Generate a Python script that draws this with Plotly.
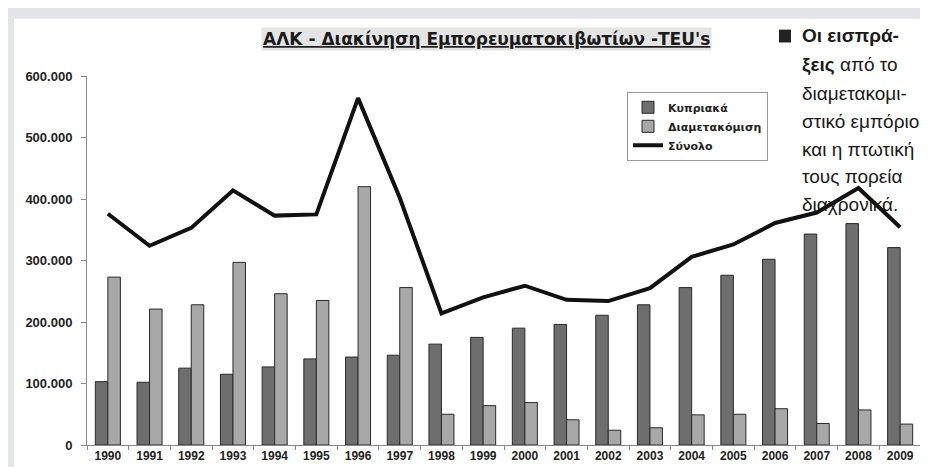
import plotly.graph_objects as go

years = [str(y) for y in range(1990, 2010)]
kypriaka = [103000, 102000, 125000, 115000, 127000, 140000, 143000, 146000, 164000, 175000,
            190000, 196000, 211000, 228000, 256000, 276000, 302000, 343000, 360000, 321000]
diametakomisi = [273000, 221000, 228000, 297000, 246000, 235000, 420000, 256000, 50000, 64000,
                 69000, 41000, 24000, 28000, 49000, 50000, 59000, 35000, 57000, 34000]
synolo = [376000, 324000, 353000, 414000, 373000, 375000, 564000, 402000, 214000, 240000,
          259000, 236000, 234000, 255000, 306000, 326000, 361000, 378000, 418000, 354000]

W, H = 928, 467
ML, MR, MT, MB = 79, 15, 68, 25
PW, PH = W - ML - MR, H - MT - MB


def px(x):
    return (x - ML) / PW


def py(y):
    return (H - MB - y) / PH


fig = go.Figure()
fig.add_trace(go.Bar(x=years, y=kypriaka, name="Κυπριακά",
                     marker=dict(color="#6e6e6e", line=dict(color="#2a2a2a", width=1))))
fig.add_trace(go.Bar(x=years, y=diametakomisi, name="Διαμετακόμιση",
                     marker=dict(color="#a8a8a8", line=dict(color="#2a2a2a", width=1))))
fig.add_trace(go.Scatter(x=years, y=synolo, name="Σύνολο", mode="lines",
                         line=dict(color="#111111", width=4)))

shapes = [
    dict(type="rect", xref="paper", yref="paper", x0=px(6), x1=px(940), y0=py(480), y1=py(10),
         fillcolor="white", line=dict(width=0), layer="below"),
    dict(type="rect", xref="paper", yref="paper", x0=px(771), x1=px(783), y0=py(34), y1=py(21),
         fillcolor="#222222", line=dict(width=0)),
]

side_font = "Liberation Sans, Arial, sans-serif"
side_lines = [
    ("<b>Οι εισπρά-</b>", 27),
    ("<b>ξεις</b> από το", 57),
    ("διαμετακομι-", 86),
    ("στικό εμπόριο", 114),
    ("και η πτωτική", 142),
    ("τους πορεία", 170),
    ("διαχρονικά.", 198),
]
annotations = [
    dict(text="<u>ΑΛΚ - Διακίνηση Εμπορευματοκιβωτίων -TEU's</u>", xref="paper", yref="paper",
         x=px(478), y=py(30), xanchor="center", yanchor="middle", showarrow=False,
         font=dict(family="DejaVu Sans", size=17, color="#1a1a1a", weight="bold"),
         bgcolor="#e4e4e4", borderpad=1),
]
for t, yy in side_lines:
    annotations.append(dict(text=t, xref="paper", yref="paper", x=px(792), y=py(yy),
                            xanchor="left", yanchor="middle", showarrow=False,
                            font=dict(family=side_font, size=19, color="#1a1a1a")))

fig.update_layout(
    width=W, height=H,
    margin=dict(l=ML, r=MR, t=MT, b=MB, pad=0),
    paper_bgcolor="#e4e5e8",
    plot_bgcolor="white",
    separators=",.",
    barmode="group", bargap=0.4, bargroupgap=0,
    showlegend=True,
    legend=dict(x=px(619), y=py(84), xanchor="left", yanchor="top",
                bordercolor="#999999", borderwidth=1, bgcolor="white",
                font=dict(family="DejaVu Sans", size=11, color="#222222", weight="bold"),
                tracegroupgap=0, itemwidth=30),
    xaxis=dict(type="category", showline=True, linecolor="#888888", linewidth=1,
               ticks="outside", tickson="boundaries", ticklen=4, tickcolor="#888888",
               showgrid=False,
               tickfont=dict(family="Liberation Sans, Arial, sans-serif", size=12, color="#222222", weight="bold")),
    yaxis=dict(range=[0, 600000], tickvals=[0, 100000, 200000, 300000, 400000, 500000, 600000],
               tickformat=",d", showline=True, linecolor="#888888", linewidth=1,
               ticks="outside", ticklen=5, tickcolor="#888888", showgrid=False, zeroline=False,
               ticklabelstandoff=6,
               tickfont=dict(family="Liberation Sans, Arial, sans-serif", size=13, color="#222222", weight="bold")),
    shapes=shapes,
    annotations=annotations,
)

fig.write_html("out.html")
